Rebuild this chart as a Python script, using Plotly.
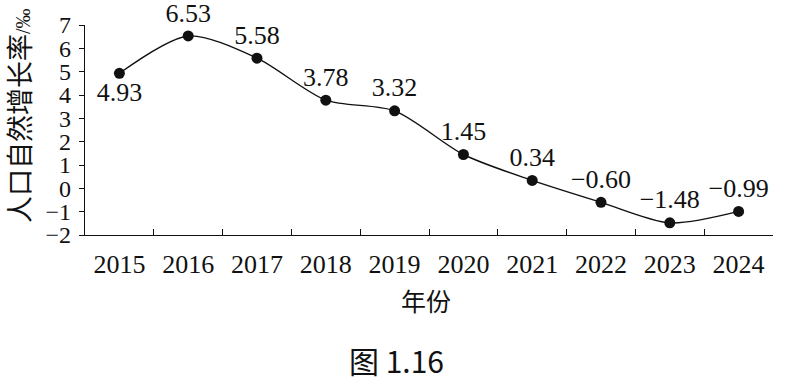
import plotly.graph_objects as go

years = ["2015", "2016", "2017", "2018", "2019", "2020", "2021", "2022", "2023", "2024"]
rates = [4.93, 6.53, 5.58, 3.78, 3.32, 1.45, 0.34, -0.60, -1.48, -0.99]
labels = ["4.93", "6.53", "5.58", "3.78", "3.32", "1.45", "0.34", "\u22120.60", "\u22121.48", "\u22120.99"]
label_pos = ["bottom center"] + ["top center"] * 9
y_ticks = [-2, -1, 0, 1, 2, 3, 4, 5, 6, 7]

SERIF = "Liberation Serif, Times New Roman, serif"
CJK = "Noto Sans CJK SC, Noto Sans, sans-serif"

fig = go.Figure()
fig.add_trace(go.Scatter(
    x=years, y=rates,
    mode="lines+markers+text",
    line=dict(color="#111111", width=1.4, shape="spline", smoothing=0.8),
    marker=dict(color="#111111", size=11),
    text=labels, textposition=label_pos,
    textfont=dict(family=SERIF, size=26, color="#111111"),
    cliponaxis=False,
    showlegend=False,
))

W, H = 785, 383
L, R, T, B = 85, 12, 25, 148
pw = W - L - R
ph = H - T - B


def px_x(px):
    return (px - L) / pw


def px_y(py):
    return (H - B - py) / ph


fig.update_layout(
    width=W, height=H,
    margin=dict(l=L, r=R, t=T, b=B, autoexpand=False),
    paper_bgcolor="white", plot_bgcolor="white",
    font=dict(family=SERIF, size=24, color="#111111"),
    xaxis=dict(
        type="category", tickson="boundaries", ticks="inside", ticklen=6,
        tickcolor="#111111", showline=True, linecolor="#111111", linewidth=1.4,
        showgrid=False, zeroline=False, automargin=False,
        tickfont=dict(family=SERIF, size=26, color="#111111"),
        ticklabelstandoff=6,
        range=[-0.5, 9.5],
    ),
    yaxis=dict(
        range=[-2, 7], tickvals=y_ticks, ticks="outside", ticklen=5,
        tickcolor="#111111", showline=True, linecolor="#111111", linewidth=1.4,
        showgrid=False, zeroline=False, automargin=False,
        tickfont=dict(family=SERIF, size=24, color="#111111"),
        ticklabelstandoff=3,
    ),
    annotations=[
        dict(text="年份", xref="paper", yref="paper",
             x=px_x(426), y=px_y(300),
             xanchor="center", yanchor="middle", showarrow=False,
             font=dict(family=CJK, size=25, color="#111111")),
        dict(text="图 1.16", xref="paper", yref="paper",
             x=px_x(396), y=px_y(360),
             xanchor="center", yanchor="middle", showarrow=False,
             font=dict(family=CJK, size=30, color="#111111")),
        dict(text="人口自然增长率<span style='font-size:20px;font-family:Liberation Serif'>/‰</span>",
             xref="paper", yref="paper", textangle=-90,
             x=px_x(18), y=px_y(116),
             xanchor="center", yanchor="middle", showarrow=False,
             font=dict(family=CJK, size=27, color="#111111")),
    ],
)

fig.write_html("out.html", config={"displayModeBar": False},
               post_script="document.body.style.margin='0';")
